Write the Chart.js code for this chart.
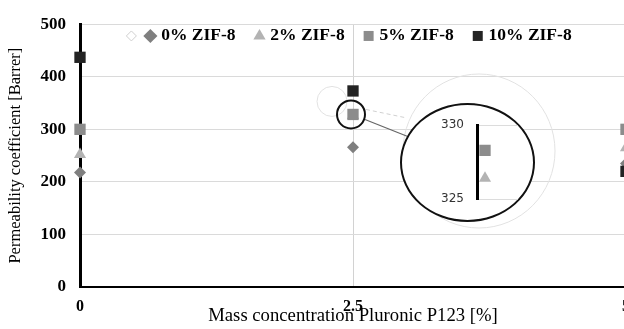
<!DOCTYPE html>
<html>
<head>
<meta charset="utf-8">
<script src="https://cdn.jsdelivr.net/npm/chart.js@4.4.1/dist/chart.umd.min.js"></script>
<style>
html,body{margin:0;padding:0;background:#fff;overflow:hidden;width:624px;height:329px;}
#wrap{position:absolute;left:0;top:0;width:640px;height:329px;}
#lens{position:absolute;left:400px;top:103px;width:131px;height:115px;border:2px solid #111;border-radius:50%;background:#fff;overflow:hidden;}
#lensWrap{position:absolute;left:0;top:0;width:131px;height:115px;}
</style>
</head>
<body>
<div id="wrap"><canvas id="mainChart"></canvas></div>
<div id="lens"><div id="lensWrap"><canvas id="zoomChart"></canvas></div></div>
<script>
// x = mass concentration of Pluronic P123 [%]
const xValues = [0, 2.5, 5];
const xTickLabels = ['0', '2.5', '5'];
const yTicks = [0, 100, 200, 300, 400, 500];
const zoomTicks = [325, 330];
const seriesNames = ['0% ZIF-8', '2% ZIF-8', '5% ZIF-8', '10% ZIF-8'];
const zif0 = [218, 266, 235];
const zif2 = [252, 326.4, 265];
const zif5 = [300, 328.3, 300];
const zif10 = [437, 373, 220];

const serif = 'Liberation Serif';
const looks = [
  {style: 'rectRot', color: '#7f7f7f', r: 6},
  {style: 'triangle', color: '#b3b3b3', r: 7},
  {style: 'rect', color: '#8c8c8c', r: 8},
  {style: 'rect', color: '#232323', r: 8}
];

function makeSets(clip){
  const values = [zif0, zif2, zif5, zif10];
  return values.map(function(vals, i){
    const set = {
      label: seriesNames[i],
      data: vals.map(function(v, j){ return {x: xValues[j], y: v}; }),
      pointStyle: looks[i].style,
      pointRadius: looks[i].r,
      backgroundColor: looks[i].color,
      borderColor: looks[i].color,
      borderWidth: 0,
      order: 3 - i   // later series on top, as in the original
    };
    if(!clip) set.clip = false;
    return set;
  });
}

// legend sits inside the plot area, so it takes almost no room and is not clipped
const legendInside = {
  id: 'legendInside',
  beforeInit(chart){
    const lg = chart.legend;
    if(!lg) return;
    const fit = lg.fit;
    lg.fit = function(){ fit.call(this); this.height = 19; };
    lg.draw = function(){ if(this.options.display) this._draw(); };
  },
  afterLayout(chart){
    // nudge the legend a little to the right
    if(chart.legend){ chart.legend.left += 7; chart.legend.right += 7; }
  },
  afterDraw(chart){
    // stray empty diamond in front of the first legend entry
    const boxes = chart.legend && chart.legend.legendHitBoxes;
    if(!boxes || !boxes.length) return;
    const b = boxes[0];
    const ctx = chart.ctx;
    ctx.save();
    ctx.fillStyle = '#fff';
    ctx.strokeStyle = '#cfcfcf';
    ctx.lineWidth = 1;
    Chart.helpers.drawPoint(ctx, {pointStyle: 'rectRot', radius: 5, borderWidth: 1}, b.left - 17, b.top + b.height / 2);
    ctx.restore();
  }
};

const lensDecor = {
  id: 'lensDecor',
  afterDatasetsDraw(chart){
    const ctx = chart.ctx;
    const cx = chart.scales.x.getPixelForValue(xValues[1]);
    const cy = chart.scales.y.getPixelForValue(zif5[1]);
    ctx.save();
    ctx.strokeStyle = '#e2e2e2';
    ctx.lineWidth = 1;
    ctx.beginPath(); ctx.arc(cx - 21, cy - 13, 15, 0, Math.PI * 2); ctx.stroke();
    ctx.beginPath(); ctx.ellipse(479, 151, 76, 77, 0, 0, Math.PI * 2); ctx.stroke();
    ctx.strokeStyle = '#d0d0d0';
    ctx.setLineDash([4, 3]);
    ctx.beginPath(); ctx.moveTo(cx + 13, cy - 5); ctx.lineTo(407, 118); ctx.stroke();
    ctx.setLineDash([]);
    ctx.strokeStyle = '#666';
    ctx.lineWidth = 1.2;
    ctx.beginPath(); ctx.moveTo(cx + 12, cy + 5); ctx.lineTo(409, 137); ctx.stroke();
    ctx.strokeStyle = '#111';
    ctx.lineWidth = 2;
    ctx.beginPath(); ctx.arc(cx - 2, cy, 14, 0, Math.PI * 2); ctx.stroke();
    ctx.restore();
  }
};

new Chart(document.getElementById('mainChart'), {
  type: 'scatter',
  data: {datasets: makeSets(false)},
  plugins: [legendInside, lensDecor],
  options: {
    responsive: true,
    maintainAspectRatio: false,
    animation: false,
    layout: {padding: {top: 2, right: 12, left: 0, bottom: 0}},
    plugins: {
      legend: {
        position: 'top',
        fullSize: false,
        labels: {
          usePointStyle: true,
          boxWidth: 4,
          boxHeight: 10,
          padding: 22,
          color: '#000',
          font: {family: serif, size: 17.5, weight: 'bold'},
          sort: function(a, b){ return a.datasetIndex - b.datasetIndex; }
        }
      },
      tooltip: {enabled: false}
    },
    scales: {
      x: {
        type: 'linear',
        min: 0,
        max: 5,
        afterBuildTicks: function(s){ s.ticks = xValues.map(function(v){ return {value: v}; }); },
        afterFit: function(s){ s.height = 42; },
        ticks: {
          callback: function(v, i){ return xTickLabels[i]; },
          padding: 10,
          maxRotation: 0,
          autoSkip: false,
          color: '#000',
          font: {family: serif, size: 16, weight: 'bold'}
        },
        grid: {color: '#d2d2d2', drawTicks: false},
        border: {color: '#000', width: 2},
        title: {
          display: true,
          text: 'Mass concentration Pluronic P123 [%]',
          color: '#000',
          font: {family: serif, size: 18.7},
          padding: {top: 0, bottom: 2}
        }
      },
      y: {
        min: 0,
        max: 500,
        afterBuildTicks: function(s){ s.ticks = yTicks.map(function(v){ return {value: v}; }); },
        afterFit: function(s){ s.width = 80; },
        ticks: {
          padding: 14,
          color: '#000',
          font: {family: serif, size: 17, weight: 'bold'}
        },
        grid: {color: '#dadada', drawTicks: false},
        border: {color: '#000', width: 3},
        title: {
          display: true,
          text: 'Permeability coefficient [Barrer]',
          color: '#000',
          font: {family: serif, size: 16.5},
          padding: {top: 6, bottom: 0}
        }
      }
    }
  }
});

// magnified view around 2.5 %
new Chart(document.getElementById('zoomChart'), {
  type: 'scatter',
  data: {datasets: makeSets(true)},
  options: {
    responsive: true,
    maintainAspectRatio: false,
    animation: false,
    layout: {padding: {top: 17, bottom: 21, left: 0, right: 0}},
    plugins: {legend: {display: false}, tooltip: {enabled: false}},
    scales: {
      x: {type: 'linear', display: false, min: 2.45, max: 2.75},
      y: {
        min: 325,
        max: 330,
        afterBuildTicks: function(s){ s.ticks = zoomTicks.map(function(v){ return {value: v}; }); },
        afterFit: function(s){ s.width = 75; },
        ticks: {padding: 13, color: '#333', font: {family: 'DejaVu Sans', size: 12}},
        grid: {color: '#dcdcdc', drawTicks: false},
        border: {color: '#000', width: 3}
      }
    }
  }
});
</script>
</body>
</html>
